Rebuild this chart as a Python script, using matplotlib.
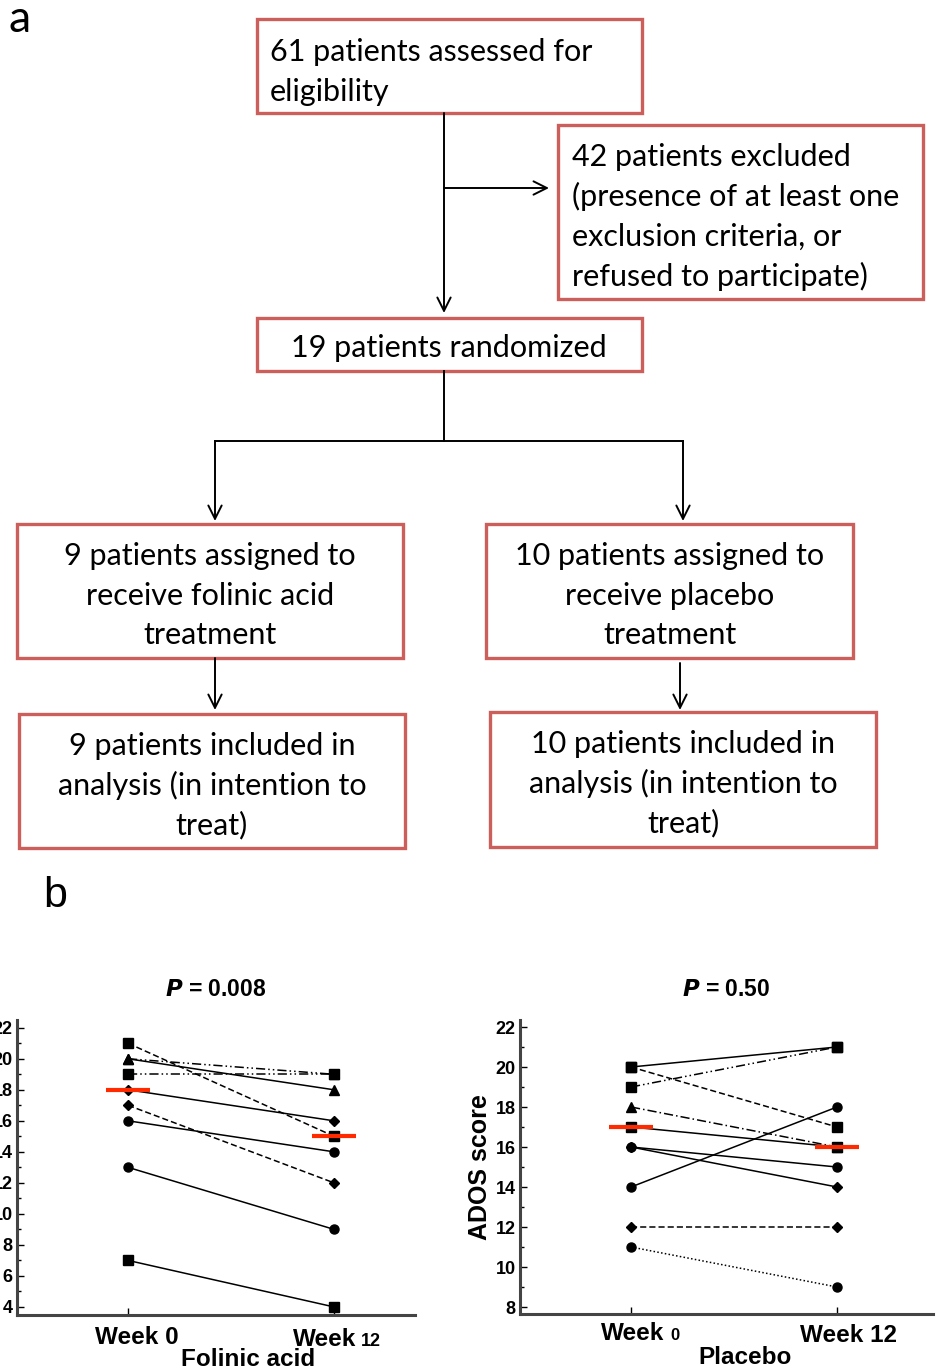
import numpy as np
import matplotlib.pyplot as plt
from matplotlib.patches import Rectangle

# ---- data ----
# flowchart boxes: text lines
box_texts = {
    'assessed': ["61 patients assessed for", "eligibility"],
    'excluded': ["42 patients excluded", "(presence of at least one",
                 "exclusion criteria, or", "refused to participate)"],
    'random': ["19 patients randomized"],
    'folinic': ["9 patients assigned to", "receive folinic acid", "treatment"],
    'placebo': ["10 patients assigned to", "receive placebo", "treatment"],
    'fol_itt': ["9 patients included in", "analysis (in intention to", "treat)"],
    'pla_itt': ["10 patients included in", "analysis (in intention to", "treat)"],
}

# ADOS scores, week 0 and week 12
fol_week0 = [21, 20, 20, 19, 18, 17, 16, 13, 7]
fol_week12 = [15, 18, 19, 19, 16, 12, 14, 9, 4]
fol_marker = ['s', '^', '^', 's', 'D', 'D', 'o', 'o', 's']
fol_style = ['dashed', 'solid', 'dashdotdot', 'dashdotdot', 'solid', 'dashed', 'solid', 'solid', 'solid']
fol_median = [18, 15]

pla_week0 = [20, 19, 20, 18, 17, 16, 16, 14, 12, 11]
pla_week12 = [21, 21, 17, 16, 16, 15, 14, 18, 12, 9]
pla_marker = ['s', 's', 's', '^', 's', 'o', 'D', 'o', 'D', 'o']
pla_style = ['solid', 'dashdotdot', 'dashed', 'dashdot', 'solid', 'solid', 'solid', 'solid', 'dashed', 'dotted']
pla_median = [17, 16]

p_values = ["0.008", "0.50"]

styles = {'solid': '-', 'dashed': (0, (4, 2)), 'dashdot': (0, (6, 2, 1, 2)),
          'dashdotdot': (0, (6, 2, 1, 2, 1, 2)), 'dotted': (0, (1, 1.5))}

W, H = 938, 1372
fig = plt.figure(figsize=(W / 100, H / 100), dpi=100)

# ---- part a: flowchart, drawn in pixel coordinates ----
fl = fig.add_axes([0, 0, 1, 1])
fl.set_xlim(0, W)
fl.set_ylim(H, 0)
fl.axis('off')

edge = '#CC5F5B'
flow_font = 'Lato'

def box(x0, y0, x1, y1):
    fl.add_patch(Rectangle((x0, y0), x1 - x0, y1 - y0, fill=False,
                           edgecolor=edge, lw=2.4))

def lines(key, x, y_first, ha='center', step=39.7):
    for i, t in enumerate(box_texts[key]):
        fl.text(x, y_first + i * step, t, ha=ha, va='center',
                fontsize=22, family=flow_font)

def arrow(x0, y0, x1, y1):
    fl.annotate('', xy=(x1, y1), xytext=(x0, y0),
                arrowprops=dict(arrowstyle='->', lw=1.4, color='black',
                                mutation_scale=24, shrinkA=0, shrinkB=0))

box(257, 19, 642, 113)
lines('assessed', 270, 52, ha='left')
box(558, 125, 923, 299)
lines('excluded', 572, 157, ha='left')
box(257, 318, 642, 371)
lines('random', 449, 348)
box(17, 524, 403, 658)
lines('folinic', 210, 556)
box(486, 524, 853, 658)
lines('placebo', 670, 556)
box(19, 714, 405, 848)
lines('fol_itt', 212, 746)
box(490, 712, 876, 847)
lines('pla_itt', 683, 744)

arrow(444, 113, 444, 313)
arrow(444, 188, 549, 188)
fl.plot([444, 444], [371, 441], color='black', lw=1.4)
fl.plot([215, 683], [441, 441], color='black', lw=1.4)
arrow(215, 441, 215, 521)
arrow(683, 441, 683, 521)
arrow(215, 658, 215, 710)
arrow(680, 663, 680, 710)

fl.text(9, 20, 'a', fontsize=32, family=flow_font, va='center', ha='left')
fl.text(43, 896, 'b', fontsize=31, family='Liberation Sans', va='center', ha='left')

# ---- part b: paired plots ----
def panel(rect, w0, w12, markers, lstyles, med, ylim, yticks, xlim, pval):
    ax = fig.add_axes(rect)
    x = [0, 1]
    for a, b, m, ls in zip(w0, w12, markers, lstyles):
        ax.plot(x, [a, b], color='black', lw=1.1, linestyle=styles[ls],
                marker=m, markersize=5 if m == 'D' else 6.5,
                markerfacecolor='black', markeredgecolor='black')
    for xi, mv in zip(x, med):
        ax.plot([xi - 0.105, xi + 0.105], [mv, mv], color='#FF2A00', lw=3,
                solid_capstyle='butt', zorder=5)
    ax.set_xlim(*xlim)
    ax.set_ylim(*ylim)
    ax.set_yticks(yticks)
    ax.set_yticks(np.arange(yticks[0] + 1, yticks[-1], 2), minor=True)
    ax.set_xticks(x)
    ax.set_xticklabels([])
    for s in ['top', 'right']:
        ax.spines[s].set_visible(False)
    for s in ['left', 'bottom']:
        ax.spines[s].set_linewidth(2.2)
        ax.spines[s].set_color('#444444')
    ax.tick_params(axis='y', which='major', direction='in', length=5, width=1,
                   labelsize=13, pad=3)
    ax.tick_params(axis='y', which='minor', direction='in', length=3, width=1)
    ax.tick_params(axis='x', direction='in', length=5, width=1)
    for lab in ax.get_yticklabels():
        lab.set_fontweight('bold')
        lab.set_family('Liberation Sans')
    ax.set_title('$\\bfit{P}$ = ' + pval, fontsize=16.5, fontweight='bold',
                 family='Liberation Sans', pad=17)
    ax.patch.set_alpha(0)
    return ax

ax1 = panel([17 / W, 1 - 1315 / H, 398 / W, 295 / H], fol_week0, fol_week12,
            fol_marker, fol_style, fol_median, (3.48, 22.5), np.arange(4, 23, 2),
            (-0.539, 1.393), p_values[0])
ax2 = panel([520 / W, 1 - 1314 / H, 413 / W, 294 / H], pla_week0, pla_week12,
            pla_marker, pla_style, pla_median, (7.65, 22.35), np.arange(8, 23, 2),
            (-0.539, 1.466), p_values[1])
ax2.set_ylabel('ADOS score', fontsize=18, fontweight='bold', family='Liberation Sans',
               labelpad=3)

def ftext(x, y, s, size, ha='left'):
    fig.text(x / W, 1 - y / H, s, fontsize=size, fontweight='bold',
             family='Liberation Sans', ha=ha, va='center')

# x labels (week numbers drawn in mixed sizes like the original)
ftext(95, 1337, 'Week 0', 17.5)
ftext(293, 1340, 'Week', 17.5)
ftext(361, 1341, '12', 13)
ftext(248, 1360, 'Folinic acid', 17.5, ha='center')
ftext(601, 1333, 'Week', 17.5)
ftext(670, 1335, '0', 12)
ftext(800, 1336, 'Week 12', 17.5)
ftext(745, 1357, 'Placebo', 17.5, ha='center')

fig.savefig('out.png', dpi=100)
